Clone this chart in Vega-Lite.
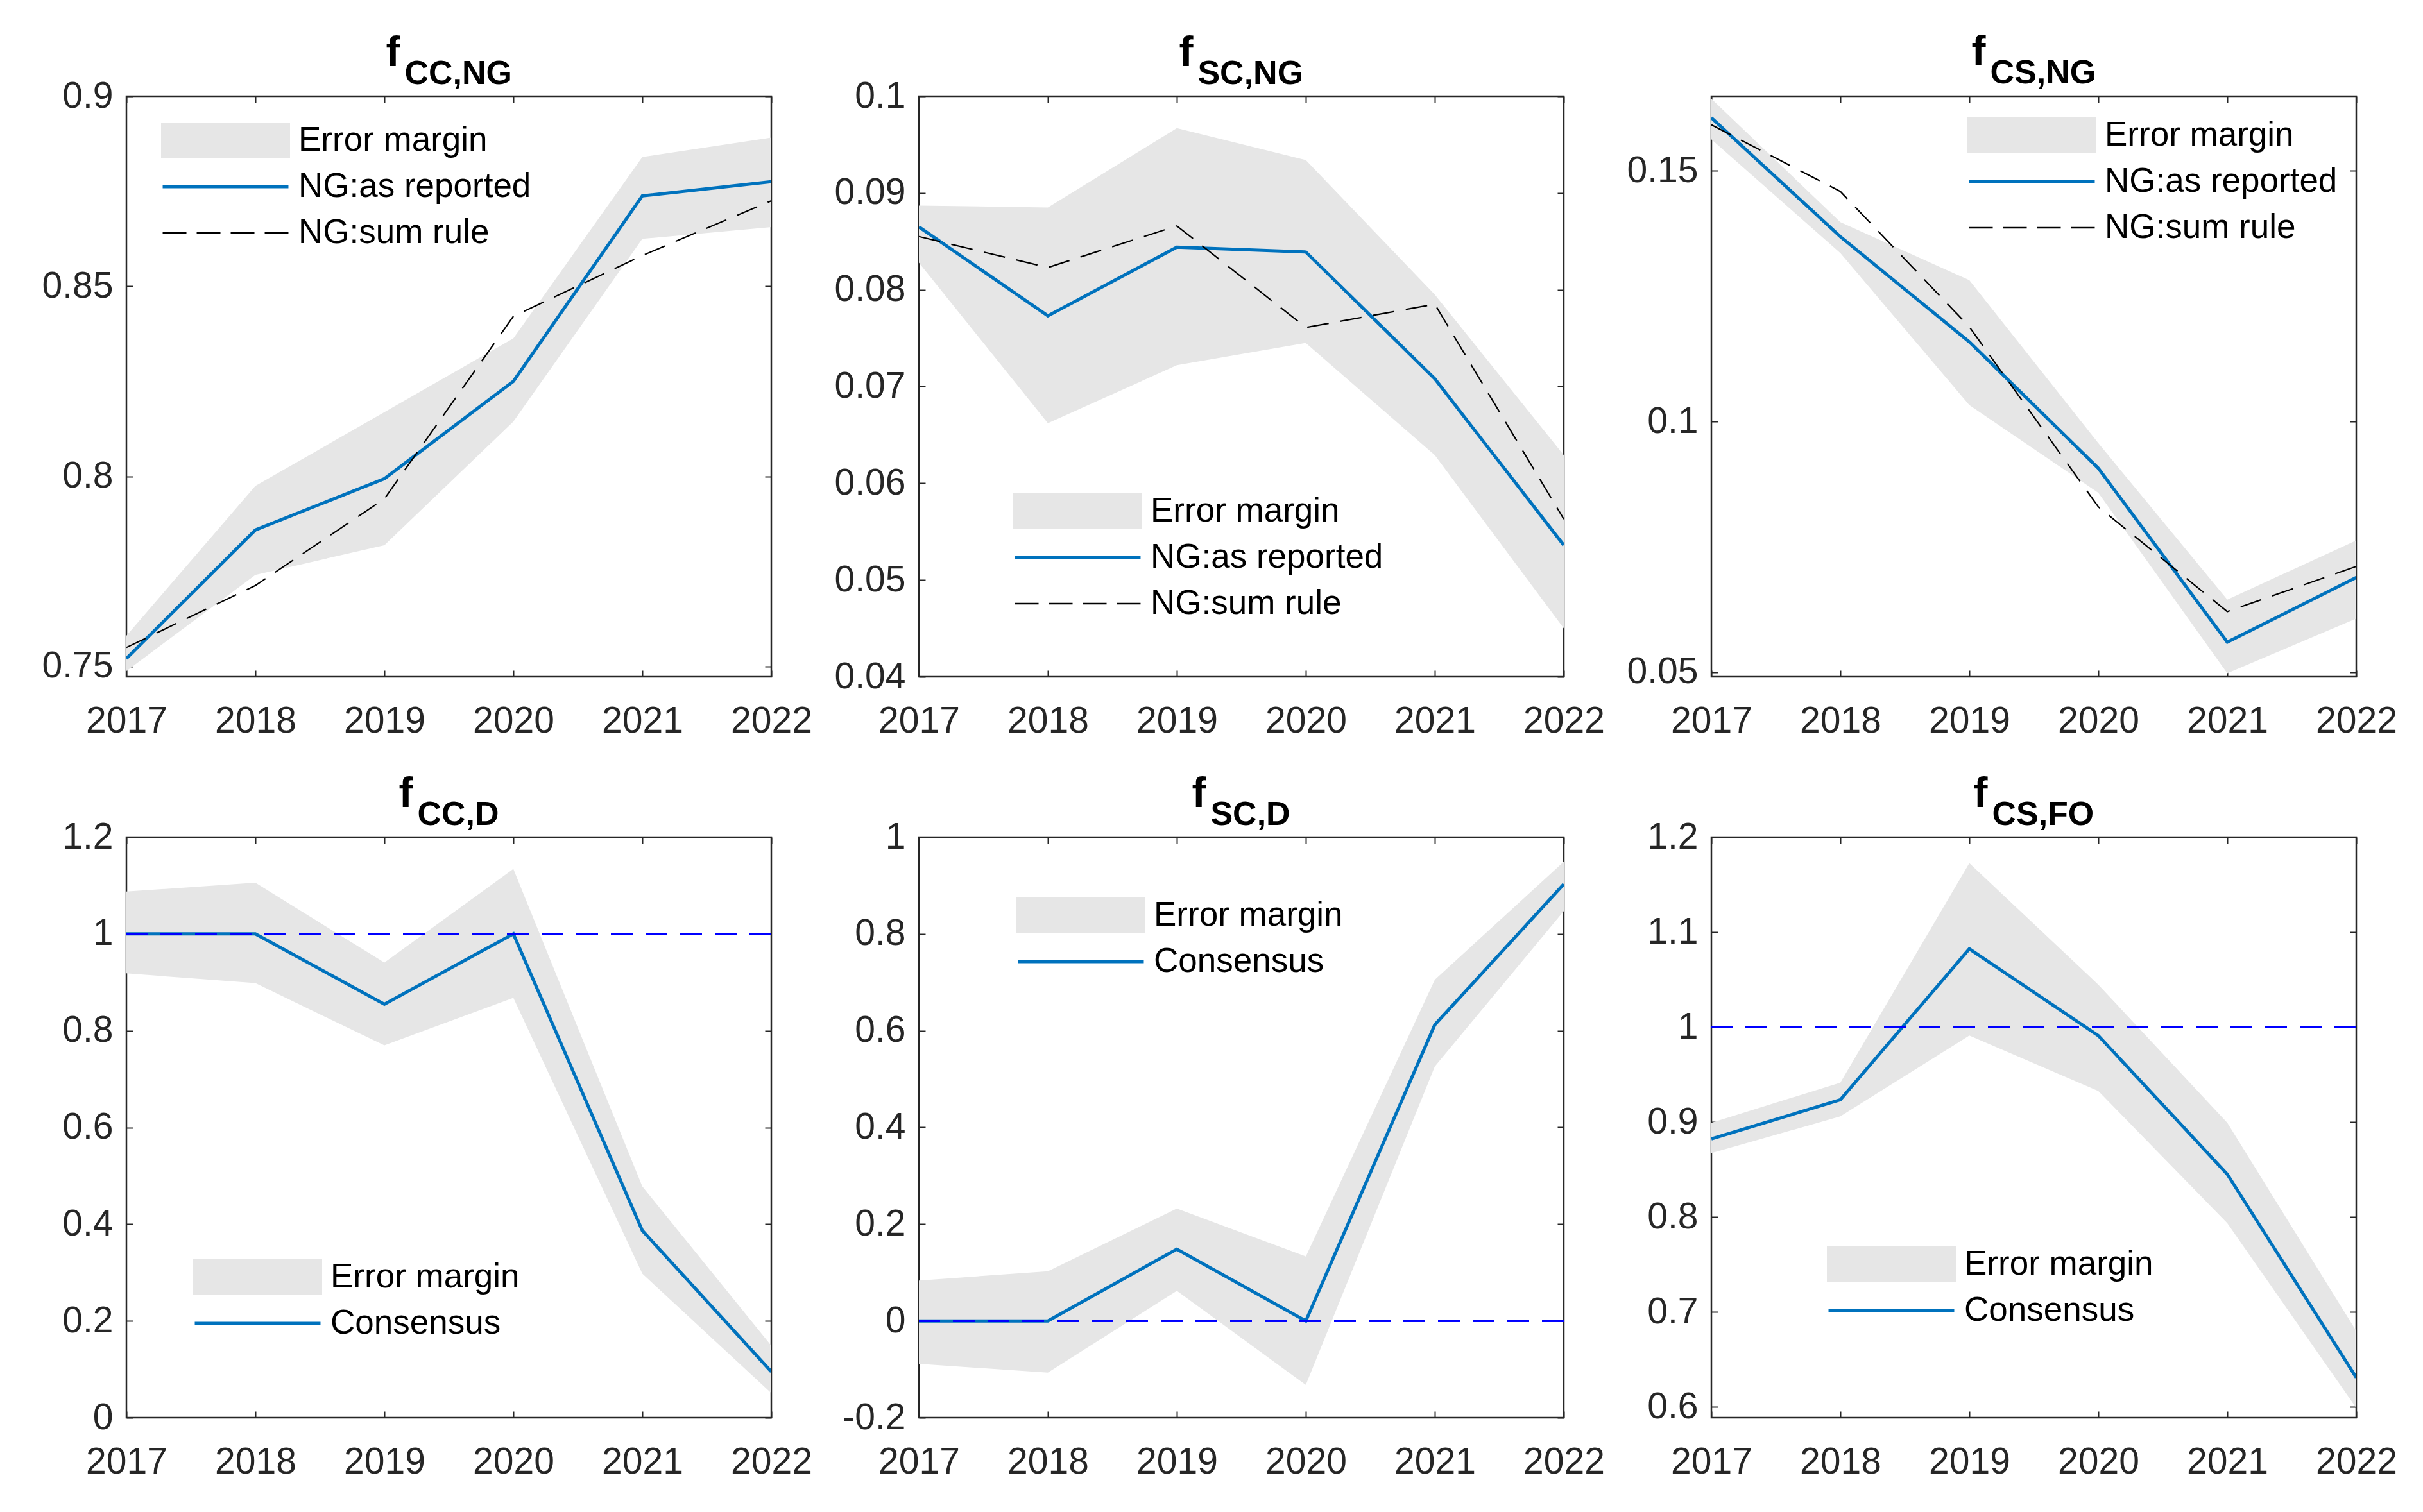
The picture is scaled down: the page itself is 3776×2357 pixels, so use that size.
{
  "$schema": "https://vega.github.io/schema/vega-lite/v6.json",
  "background": "white",
  "padding": {"left": 63, "top": 47, "right": 20, "bottom": 20},
  "config": {
    "font": "Liberation Sans",
    "view": {"stroke": "#262626", "strokeWidth": 2.5},
    "axis": {"labelFont": "Liberation Sans", "labelFontSize": 57, "labelColor": "#262626", "tickColor": "#262626", "tickWidth": 2, "tickSize": -10, "domain": false, "grid": false, "title": null, "labelFlush": false},
    "axisX": {"labelPadding": 51},
    "axisY": {"labelPadding": 31},
    "legend": {"orient": "none", "symbolSize": 38400, "clipHeight": 72, "rowPadding": 0, "padding": 0, "labelOffset": 13, "labelFontSize": 53, "labelFont": "Liberation Sans", "labelColor": "#000000", "labelLimit": 0},
    "title": {"font": "Liberation Sans", "fontSize": 66, "fontWeight": "bold", "color": "#000000", "subtitleFont": "Liberation Sans", "subtitleFontSize": 52, "subtitleFontWeight": "bold", "subtitleColor": "#000000", "subtitlePadding": -27, "offset": -21, "anchor": "middle", "align": "left"}
  },
  "datasets": {
    "p1": [
      {"year": 2017, "lo": 0.7488, "hi": 0.7581, "rep": 0.7521, "sum": 0.7550},
      {"year": 2018, "lo": 0.7741, "hi": 0.7975, "rep": 0.7859, "sum": 0.7713},
      {"year": 2019, "lo": 0.7819, "hi": 0.8169, "rep": 0.7994, "sum": 0.7941},
      {"year": 2020, "lo": 0.8144, "hi": 0.8363, "rep": 0.8250, "sum": 0.8421},
      {"year": 2021, "lo": 0.8625, "hi": 0.8840, "rep": 0.8738, "sum": 0.8581},
      {"year": 2022, "lo": 0.8656, "hi": 0.8891, "rep": 0.8775, "sum": 0.8725}
    ],
    "p2": [
      {"year": 2017, "lo": 0.0828, "hi": 0.0887, "rep": 0.0865, "sum": 0.0855},
      {"year": 2018, "lo": 0.0662, "hi": 0.0885, "rep": 0.0773, "sum": 0.0823},
      {"year": 2019, "lo": 0.0722, "hi": 0.0967, "rep": 0.0844, "sum": 0.0866},
      {"year": 2020, "lo": 0.0745, "hi": 0.0934, "rep": 0.0839, "sum": 0.0761},
      {"year": 2021, "lo": 0.0629, "hi": 0.0795, "rep": 0.0708, "sum": 0.0785},
      {"year": 2022, "lo": 0.0450, "hi": 0.0629, "rep": 0.0536, "sum": 0.0563}
    ],
    "p3": [
      {"year": 2017, "lo": 0.1563, "hi": 0.1644, "rep": 0.1606, "sum": 0.1592},
      {"year": 2018, "lo": 0.1336, "hi": 0.1398, "rep": 0.1369, "sum": 0.1459},
      {"year": 2019, "lo": 0.1033, "hi": 0.1282, "rep": 0.1159, "sum": 0.1189},
      {"year": 2020, "lo": 0.0858, "hi": 0.0957, "rep": 0.0907, "sum": 0.0830},
      {"year": 2021, "lo": 0.0498, "hi": 0.0645, "rep": 0.0560, "sum": 0.0621},
      {"year": 2022, "lo": 0.0607, "hi": 0.0763, "rep": 0.0689, "sum": 0.0711}
    ],
    "p4": [
      {"year": 2017, "lo": 0.9185, "hi": 1.0876, "con": 1.0},
      {"year": 2018, "lo": 0.8982, "hi": 1.1058, "con": 1.0},
      {"year": 2019, "lo": 0.7696, "hi": 0.9408, "con": 0.8547},
      {"year": 2020, "lo": 0.8679, "hi": 1.1342, "con": 1.0},
      {"year": 2021, "lo": 0.2977, "hi": 0.4780, "con": 0.3868},
      {"year": 2022, "lo": 0.0506, "hi": 0.1489, "con": 0.0952}
    ],
    "p5": [
      {"year": 2017, "lo": -0.0886, "hi": 0.0835, "con": 0.0},
      {"year": 2018, "lo": -0.1068, "hi": 0.1028, "con": 0.0},
      {"year": 2019, "lo": 0.0623, "hi": 0.2324, "con": 0.1484},
      {"year": 2020, "lo": -0.1322, "hi": 0.1332, "con": 0.0},
      {"year": 2021, "lo": 0.5260, "hi": 0.7053, "con": 0.6122},
      {"year": 2022, "lo": 0.8471, "hi": 0.9494, "con": 0.9028}
    ],
    "p6": [
      {"year": 2017, "lo": 0.8672, "hi": 0.8992, "con": 0.8822},
      {"year": 2018, "lo": 0.9059, "hi": 0.9415, "con": 0.9234},
      {"year": 2019, "lo": 0.9910, "hi": 1.1727, "con": 1.0824},
      {"year": 2020, "lo": 0.9327, "hi": 1.0447, "con": 0.9910},
      {"year": 2021, "lo": 0.7934, "hi": 0.8992, "con": 0.8450},
      {"year": 2022, "lo": 0.5989, "hi": 0.6799, "con": 0.6309}
    ]
  },
  "columns": 3,
  "spacing": {"row": 250, "column": 230},
  "bounds": "flush",
  "resolve": {"scale": {"x": "independent", "y": "independent", "color": "independent"}, "legend": {"color": "independent"}},
  "concat": [
    {
      "width": 1005, "height": 905,
      "title": {"text": "f", "subtitle": "\u2060\u00a0\u00a0CC,NG", "dx": -98, "align": "left"},
      "data": {"name": "p1"},
      "resolve": {"axis": {"x": "independent", "y": "independent"}},
      "layer": [
        {"mark": {"type": "area", "clip": true},
         "encoding": {
           "x": {"field": "year", "type": "quantitative", "scale": {"domain": [2017, 2022], "nice": false, "zero": false}, "axis": {"orient": "bottom", "values": [2017, 2018, 2019, 2020, 2021, 2022], "format": "d"}},
           "y": {"field": "lo", "type": "quantitative", "scale": {"domain": [0.7473, 0.9], "nice": false, "zero": false}, "axis": {"orient": "left", "values": [0.75, 0.8, 0.85, 0.9], "format": ".2~f"}},
           "y2": {"field": "hi"},
           "color": {"datum": "Error margin", "type": "nominal",
             "scale": {"domain": ["Error margin", "NG:as reported", "NG:sum rule"], "range": ["#e6e6e6", "#0072bd", "#000000"]},
             "legend": {"title": null, "legendX": 54, "legendY": 33,
               "encode": {"symbols": {"update": {
                 "shape": {"signal": "datum.value === 'Error margin' ? 'M-1,-0.26L1,-0.26L1,0.26L-1,0.26Z' : 'stroke'"},
                 "fill": {"signal": "datum.value === 'Error margin' ? '#e6e6e6' : 'transparent'"},
                 "stroke": {"signal": "datum.value === 'Error margin' ? 'transparent' : (datum.value === 'NG:sum rule' ? '#000000' : '#0072bd')"},
                 "strokeDash": {"signal": "(datum.value === 'NG:sum rule' ? [37, 16] : [1, 0])"},
                 "strokeWidth": {"signal": "(datum.value === 'NG:sum rule' ? 2.5 : 5)"},
                 "opacity": {"value": 1}
               }}}}}
         }},
        {"mark": {"type": "line", "strokeWidth": 5, "clip": true},
         "encoding": {
           "x": {"field": "year", "type": "quantitative", "axis": null},
           "y": {"field": "rep", "type": "quantitative", "axis": null},
           "color": {"datum": "NG:as reported", "type": "nominal"}
         }},
        {"mark": {"type": "line", "strokeWidth": 2.2, "strokeDash": [34, 18], "clip": true},
         "encoding": {
           "x": {"field": "year", "type": "quantitative", "axis": {"orient": "top", "values": [2017, 2018, 2019, 2020, 2021, 2022], "labels": false}},
           "y": {"field": "sum", "type": "quantitative", "axis": {"orient": "right", "values": [0.75, 0.8, 0.85, 0.9], "labels": false}},
           "color": {"datum": "NG:sum rule", "type": "nominal"}
         }}
      ]
    },
    {
      "width": 1005, "height": 905,
      "title": {"text": "f", "subtitle": "\u2060\u00a0\u00a0SC,NG", "dx": -97, "align": "left"},
      "data": {"name": "p2"},
      "resolve": {"axis": {"x": "independent", "y": "independent"}},
      "layer": [
        {"mark": {"type": "area", "clip": true},
         "encoding": {
           "x": {"field": "year", "type": "quantitative", "scale": {"domain": [2017, 2022], "nice": false, "zero": false}, "axis": {"orient": "bottom", "values": [2017, 2018, 2019, 2020, 2021, 2022], "format": "d"}},
           "y": {"field": "lo", "type": "quantitative", "scale": {"domain": [0.04, 0.1], "nice": false, "zero": false}, "axis": {"orient": "left", "values": [0.04, 0.05, 0.06, 0.07, 0.08, 0.09, 0.1], "format": ".2~f"}},
           "y2": {"field": "hi"},
           "color": {"datum": "Error margin", "type": "nominal",
             "scale": {"domain": ["Error margin", "NG:as reported", "NG:sum rule"], "range": ["#e6e6e6", "#0072bd", "#000000"]},
             "legend": {"title": null, "legendX": 147, "legendY": 611,
               "encode": {"symbols": {"update": {
                 "shape": {"signal": "datum.value === 'Error margin' ? 'M-1,-0.26L1,-0.26L1,0.26L-1,0.26Z' : 'stroke'"},
                 "fill": {"signal": "datum.value === 'Error margin' ? '#e6e6e6' : 'transparent'"},
                 "stroke": {"signal": "datum.value === 'Error margin' ? 'transparent' : (datum.value === 'NG:sum rule' ? '#000000' : '#0072bd')"},
                 "strokeDash": {"signal": "(datum.value === 'NG:sum rule' ? [37, 16] : [1, 0])"},
                 "strokeWidth": {"signal": "(datum.value === 'NG:sum rule' ? 2.5 : 5)"},
                 "opacity": {"value": 1}
               }}}}}
         }},
        {"mark": {"type": "line", "strokeWidth": 5, "clip": true},
         "encoding": {
           "x": {"field": "year", "type": "quantitative", "axis": null},
           "y": {"field": "rep", "type": "quantitative", "axis": null},
           "color": {"datum": "NG:as reported", "type": "nominal"}
         }},
        {"mark": {"type": "line", "strokeWidth": 2.2, "strokeDash": [34, 18], "clip": true},
         "encoding": {
           "x": {"field": "year", "type": "quantitative", "axis": {"orient": "top", "values": [2017, 2018, 2019, 2020, 2021, 2022], "labels": false}},
           "y": {"field": "sum", "type": "quantitative", "axis": {"orient": "right", "values": [0.04, 0.05, 0.06, 0.07, 0.08, 0.09, 0.1], "labels": false}},
           "color": {"datum": "NG:sum rule", "type": "nominal"}
         }}
      ]
    },
    {
      "width": 1005, "height": 905,
      "title": {"text": "f", "subtitle": "\u2060\u00a0\u00a0CS,NG", "dx": -97, "align": "left", "offset": 8},
      "data": {"name": "p3"},
      "resolve": {"axis": {"x": "independent", "y": "independent"}},
      "layer": [
        {"mark": {"type": "area", "clip": true},
         "encoding": {
           "x": {"field": "year", "type": "quantitative", "scale": {"domain": [2017, 2022], "nice": false, "zero": false}, "axis": {"orient": "bottom", "values": [2017, 2018, 2019, 2020, 2021, 2022], "format": "d"}},
           "y": {"field": "lo", "type": "quantitative", "scale": {"domain": [0.0491, 0.1649], "nice": false, "zero": false}, "axis": {"orient": "left", "values": [0.05, 0.1, 0.15], "format": ".2~f"}},
           "y2": {"field": "hi"},
           "color": {"datum": "Error margin", "type": "nominal",
             "scale": {"domain": ["Error margin", "NG:as reported", "NG:sum rule"], "range": ["#e6e6e6", "#0072bd", "#000000"]},
             "legend": {"title": null, "legendX": 399, "legendY": 25,
               "encode": {"symbols": {"update": {
                 "shape": {"signal": "datum.value === 'Error margin' ? 'M-1,-0.26L1,-0.26L1,0.26L-1,0.26Z' : 'stroke'"},
                 "fill": {"signal": "datum.value === 'Error margin' ? '#e6e6e6' : 'transparent'"},
                 "stroke": {"signal": "datum.value === 'Error margin' ? 'transparent' : (datum.value === 'NG:sum rule' ? '#000000' : '#0072bd')"},
                 "strokeDash": {"signal": "(datum.value === 'NG:sum rule' ? [37, 16] : [1, 0])"},
                 "strokeWidth": {"signal": "(datum.value === 'NG:sum rule' ? 2.5 : 5)"},
                 "opacity": {"value": 1}
               }}}}}
         }},
        {"mark": {"type": "line", "strokeWidth": 5, "clip": true},
         "encoding": {
           "x": {"field": "year", "type": "quantitative", "axis": null},
           "y": {"field": "rep", "type": "quantitative", "axis": null},
           "color": {"datum": "NG:as reported", "type": "nominal"}
         }},
        {"mark": {"type": "line", "strokeWidth": 2.2, "strokeDash": [34, 18], "clip": true},
         "encoding": {
           "x": {"field": "year", "type": "quantitative", "axis": {"orient": "top", "values": [2017, 2018, 2019, 2020, 2021, 2022], "labels": false}},
           "y": {"field": "sum", "type": "quantitative", "axis": {"orient": "right", "values": [0.05, 0.1, 0.15], "labels": false}},
           "color": {"datum": "NG:sum rule", "type": "nominal"}
         }}
      ]
    },
    {
      "width": 1005, "height": 905,
      "title": {"text": "f", "subtitle": "\u2060\u00a0\u00a0CC,D", "dx": -78, "align": "left"},
      "data": {"name": "p4"},
      "resolve": {"axis": {"x": "independent", "y": "independent"}},
      "layer": [
        {"mark": {"type": "area", "clip": true},
         "encoding": {
           "x": {"field": "year", "type": "quantitative", "scale": {"domain": [2017, 2022], "nice": false, "zero": false}, "axis": {"orient": "bottom", "values": [2017, 2018, 2019, 2020, 2021, 2022], "format": "d"}},
           "y": {"field": "lo", "type": "quantitative", "scale": {"domain": [0, 1.2], "nice": false, "zero": false}, "axis": {"orient": "left", "values": [0, 0.2, 0.4, 0.6, 0.8, 1, 1.2], "format": ".1~f"}},
           "y2": {"field": "hi"},
           "color": {"datum": "Error margin", "type": "nominal",
             "scale": {"domain": ["Error margin", "Consensus"], "range": ["#e6e6e6", "#0072bd"]},
             "legend": {"title": null, "legendX": 104, "legendY": 650,
               "encode": {"symbols": {"update": {
                 "shape": {"signal": "datum.value === 'Error margin' ? 'M-1,-0.26L1,-0.26L1,0.26L-1,0.26Z' : 'stroke'"},
                 "fill": {"signal": "datum.value === 'Error margin' ? '#e6e6e6' : 'transparent'"},
                 "stroke": {"signal": "datum.value === 'Error margin' ? 'transparent' : '#0072bd'"},
                 "strokeWidth": {"value": 5},
                 "opacity": {"value": 1}
               }}}}}
         }},
        {"mark": {"type": "line", "strokeWidth": 5, "clip": true},
         "encoding": {
           "x": {"field": "year", "type": "quantitative", "axis": {"orient": "top", "values": [2017, 2018, 2019, 2020, 2021, 2022], "labels": false}},
           "y": {"field": "con", "type": "quantitative", "axis": {"orient": "right", "values": [0, 0.2, 0.4, 0.6, 0.8, 1, 1.2], "labels": false}},
           "color": {"datum": "Consensus", "type": "nominal"}
         }},
        {"mark": {"type": "rule", "strokeWidth": 3, "strokeDash": [34, 20], "color": "#0000ff", "opacity": 0.62},
         "encoding": {"y": {"datum": 1, "type": "quantitative", "axis": null}}}
      ]
    },
    {
      "width": 1005, "height": 905,
      "title": {"text": "f", "subtitle": "\u2060\u00a0\u00a0SC,D", "dx": -77, "align": "left"},
      "data": {"name": "p5"},
      "resolve": {"axis": {"x": "independent", "y": "independent"}},
      "layer": [
        {"mark": {"type": "area", "clip": true},
         "encoding": {
           "x": {"field": "year", "type": "quantitative", "scale": {"domain": [2017, 2022], "nice": false, "zero": false}, "axis": {"orient": "bottom", "values": [2017, 2018, 2019, 2020, 2021, 2022], "format": "d"}},
           "y": {"field": "lo", "type": "quantitative", "scale": {"domain": [-0.2, 1], "nice": false, "zero": false}, "axis": {"orient": "left", "values": [-0.2, 0, 0.2, 0.4, 0.6, 0.8, 1], "format": ".1~f", "labelExpr": "replace(datum.label, '\u2212', '-')"}},
           "y2": {"field": "hi"},
           "color": {"datum": "Error margin", "type": "nominal",
             "scale": {"domain": ["Error margin", "Consensus"], "range": ["#e6e6e6", "#0072bd"]},
             "legend": {"title": null, "legendX": 152, "legendY": 86,
               "encode": {"symbols": {"update": {
                 "shape": {"signal": "datum.value === 'Error margin' ? 'M-1,-0.26L1,-0.26L1,0.26L-1,0.26Z' : 'stroke'"},
                 "fill": {"signal": "datum.value === 'Error margin' ? '#e6e6e6' : 'transparent'"},
                 "stroke": {"signal": "datum.value === 'Error margin' ? 'transparent' : '#0072bd'"},
                 "strokeWidth": {"value": 5},
                 "opacity": {"value": 1}
               }}}}}
         }},
        {"mark": {"type": "line", "strokeWidth": 5, "clip": true},
         "encoding": {
           "x": {"field": "year", "type": "quantitative", "axis": {"orient": "top", "values": [2017, 2018, 2019, 2020, 2021, 2022], "labels": false}},
           "y": {"field": "con", "type": "quantitative", "axis": {"orient": "right", "values": [-0.2, 0, 0.2, 0.4, 0.6, 0.8, 1], "labels": false}},
           "color": {"datum": "Consensus", "type": "nominal"}
         }},
        {"mark": {"type": "rule", "strokeWidth": 3, "strokeDash": [34, 20], "color": "#0000ff", "opacity": 0.62},
         "encoding": {"y": {"datum": 0, "type": "quantitative", "axis": null}}}
      ]
    },
    {
      "width": 1005, "height": 905,
      "title": {"text": "f", "subtitle": "\u2060\u00a0\u00a0CS,FO", "dx": -94, "align": "left"},
      "data": {"name": "p6"},
      "resolve": {"axis": {"x": "independent", "y": "independent"}},
      "layer": [
        {"mark": {"type": "area", "clip": true},
         "encoding": {
           "x": {"field": "year", "type": "quantitative", "scale": {"domain": [2017, 2022], "nice": false, "zero": false}, "axis": {"orient": "bottom", "values": [2017, 2018, 2019, 2020, 2021, 2022], "format": "d"}},
           "y": {"field": "lo", "type": "quantitative", "scale": {"domain": [0.5886, 1.2], "nice": false, "zero": false}, "axis": {"orient": "left", "values": [0.6, 0.7, 0.8, 0.9, 1, 1.1, 1.2], "format": ".1~f"}},
           "y2": {"field": "hi"},
           "color": {"datum": "Error margin", "type": "nominal",
             "scale": {"domain": ["Error margin", "Consensus"], "range": ["#e6e6e6", "#0072bd"]},
             "legend": {"title": null, "legendX": 180, "legendY": 630,
               "encode": {"symbols": {"update": {
                 "shape": {"signal": "datum.value === 'Error margin' ? 'M-1,-0.26L1,-0.26L1,0.26L-1,0.26Z' : 'stroke'"},
                 "fill": {"signal": "datum.value === 'Error margin' ? '#e6e6e6' : 'transparent'"},
                 "stroke": {"signal": "datum.value === 'Error margin' ? 'transparent' : '#0072bd'"},
                 "strokeWidth": {"value": 5},
                 "opacity": {"value": 1}
               }}}}}
         }},
        {"mark": {"type": "line", "strokeWidth": 5, "clip": true},
         "encoding": {
           "x": {"field": "year", "type": "quantitative", "axis": {"orient": "top", "values": [2017, 2018, 2019, 2020, 2021, 2022], "labels": false}},
           "y": {"field": "con", "type": "quantitative", "axis": {"orient": "right", "values": [0.6, 0.7, 0.8, 0.9, 1, 1.1, 1.2], "labels": false}},
           "color": {"datum": "Consensus", "type": "nominal"}
         }},
        {"mark": {"type": "rule", "strokeWidth": 3, "strokeDash": [34, 20], "color": "#0000ff", "opacity": 0.9},
         "encoding": {"y": {"datum": 1, "type": "quantitative", "axis": null}}}
      ]
    }
  ]
}
